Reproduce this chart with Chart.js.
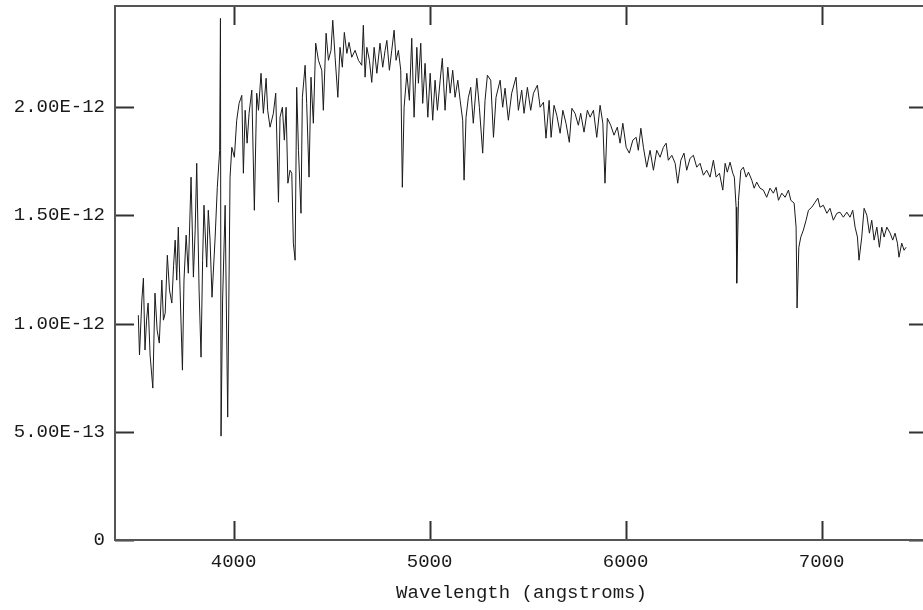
<!DOCTYPE html>
<html>
<head>
<meta charset="utf-8">
<script src="https://cdn.jsdelivr.net/npm/chart.js@4.4.1/dist/chart.umd.min.js"></script>
<style>
  html, body { margin: 0; padding: 0; background: #fff; overflow: hidden; }
  #wrap { width: 940px; height: 610px; position: relative; }
</style>
</head>
<body>
<div id="wrap"><canvas id="spec"></canvas></div>
<script>
// Spectrum: wavelength (angstroms) and flux (units of 1E-12)
const wavelength = [
  3514,3520,3532,3540,3548,3556,3564,3574,3588,3599,3610,3621,3634,3642,3651,3662,3673,3685,3694,3702,
  3710,3718,3727,3739,3747,3758,3769,3783,3795,3804,3812,3824,3834,3842,3849,3863,3871,3880,3890,3906,
  3917,3929,3933,3936,3944,3957,3970,3982,3991,4004,4016,
  4028,4042,4050,4059,4069,4079,4093,4106,4118,4127,4140,4152,4166,4174,4186,4203,4215,4229,4237,4249,
  4259,4268,4277,4288,4297,4305,4314,4322,4331,4344,4351,4365,4373,4385,4395,4407,4419,4433,4450,4458,
  4472,4484,4497,4506,4518,4532,4543,4555,4565,4578,4589,4603,4620,4637,
  4654,4662,4671,4680,4693,4705,4717,4731,4747,4761,4773,4782,4795,4807,4819,4829,4841,4853,4861,4870,
  4884,4897,4909,4921,4935,4943,4955,4965,4977,4991,5003,5016,5028,5040,5054,5065,5079,5093,5105,5118,
  5130,5144,5156,5169,5176,5186,5198,5210,5223,5241,5254,5271,5283,5295,5312,5326,5339,5360,5373,5385,
  5402,5419,5441,5453,5470,5482,5499,5516,5530,
  5550,5564,5581,5594,5610,5620,5635,5649,5666,5680,5696,5713,5726,5742,5759,5771,5788,5805,5819,5836,
  5853,5870,5884,5895,5907,5924,5941,5958,5972,5986,6003,6019,6037,6054,6065,6078,6091,6108,6125,6142,
  6159,6176,6193,6207,6218,6236,6253,6266,6282,6298,6312,6329,6346,6363,6380,6397,6414,6431,6448,6462,
  6479,
  6496,6508,6519,6533,6547,6555,6564,6567,6576,6588,6601,6615,6627,6644,6656,6669,6686,6703,6720,6737,
  6754,6768,6780,6797,6814,6831,6843,6860,6870,6875,6884,6894,6907,6921,6933,6950,6967,6981,6992,7009,
  7027,7043,7060,7078,7094,7111,7129,7145,7159,7171,7183,7191,7205,7217,7231,7244,7256,7268,7282,7295,
  7307,7319,7333,7350,7363,7375,7387,7395,7409,7421,7431
];
const flux = [
  1.039,0.855,1.109,1.210,0.878,1.016,1.095,0.855,0.702,1.141,0.970,0.910,1.201,1.016,1.048,1.316,1.155,1.095,1.270,1.386,
  1.201,1.446,1.155,0.785,1.201,1.409,1.233,1.677,1.215,1.432,1.741,1.155,0.845,1.293,1.547,1.261,1.524,1.386,1.122,1.400,
  1.630,1.801,2.411,0.480,1.109,1.547,0.568,1.677,1.815,1.769,1.940,
  2.018,2.055,1.695,1.986,1.834,1.972,2.079,1.524,2.065,1.986,2.157,1.972,2.134,1.986,1.908,1.972,2.065,1.561,1.954,2.000,
  1.848,2.000,1.649,1.709,1.695,1.372,1.293,2.092,1.801,1.510,2.046,2.194,2.018,1.677,2.139,1.926,2.296,2.217,2.171,1.986,
  2.342,2.217,2.263,2.402,2.231,2.046,2.277,2.185,2.346,2.249,2.300,2.231,2.263,2.217,
  2.194,2.379,2.139,2.277,2.217,2.115,2.277,2.157,2.296,2.185,2.263,2.309,2.171,2.263,2.356,2.217,2.263,2.171,1.630,2.000,
  2.157,2.032,2.319,1.954,2.277,2.111,2.296,2.018,2.203,1.954,2.157,1.940,2.125,1.986,2.125,2.226,1.986,2.185,2.065,2.171,
  2.046,2.125,2.032,1.940,1.663,1.954,2.046,2.092,1.926,2.134,2.000,1.788,2.032,2.148,2.125,1.861,2.046,2.125,2.000,2.088,
  1.940,2.065,2.139,1.986,2.079,1.972,2.092,1.986,2.065,
  2.102,2.000,2.023,1.857,2.032,1.861,2.009,1.963,1.880,1.986,1.926,1.838,1.995,1.972,1.917,1.972,1.885,1.986,1.954,1.986,
  1.861,2.009,1.926,1.649,1.949,1.917,1.871,1.908,1.834,1.926,1.815,1.788,1.848,1.861,1.801,1.903,1.815,1.723,1.801,1.709,
  1.801,1.769,1.815,1.834,1.755,1.778,1.741,1.649,1.755,1.788,1.709,1.764,1.778,1.723,1.741,1.686,1.709,1.677,1.755,1.677,
  1.695,
  1.617,1.741,1.700,1.746,1.695,1.677,1.538,1.187,1.570,1.709,1.723,1.677,1.700,1.663,1.626,1.654,1.626,1.617,1.584,1.626,
  1.603,1.630,1.570,1.603,1.584,1.617,1.570,1.557,1.446,1.072,1.353,1.400,1.432,1.478,1.524,1.538,1.561,1.580,1.538,1.547,
  1.510,1.533,1.478,1.510,1.515,1.492,1.515,1.492,1.524,1.446,1.400,1.293,1.400,1.533,1.501,1.418,1.478,1.386,1.446,1.353,
  1.446,1.400,1.446,1.418,1.386,1.418,1.372,1.307,1.372,1.339,1.353
];

// axis ranges and ticks
const xMin = 3395, xMax = 7543;
const xTicks = [4000, 5000, 6000, 7000];
const yMin = 0, yMax = 2.468;
const yTicks = [0, 0.5, 1.0, 1.5, 2.0];
const xTitle = 'Wavelength (angstroms)';

const FONT = { family: '"Liberation Mono", "DejaVu Sans Mono", monospace', size: 19 };
const INK = '#1a1a1a';

function fmtFlux(v){
  if (v === 0) return '0';
  return (v * 1e-12).toExponential(2).toUpperCase();
}

// frame + inward tick marks on all four sides
const frameTicks = {
  id: 'frameTicks',
  afterDraw(chart){
    const { ctx, chartArea: a, scales } = chart;
    const len = 19;
    ctx.save();
    ctx.strokeStyle = '#333';
    ctx.lineWidth = 2;
    ctx.beginPath();
    xTicks.forEach(v => {
      const px = Math.round(scales.x.getPixelForValue(v)) + 0.5;
      ctx.moveTo(px, a.bottom); ctx.lineTo(px, a.bottom - len);
      ctx.moveTo(px, a.top); ctx.lineTo(px, a.top + len);
    });
    yTicks.forEach(v => {
      const py = Math.round(scales.y.getPixelForValue(v)) + 0.5;
      ctx.moveTo(a.left, py); ctx.lineTo(a.left + len, py);
      ctx.moveTo(a.right, py); ctx.lineTo(a.right - len, py);
    });
    ctx.stroke();
    ctx.strokeStyle = '#555';
    ctx.lineWidth = 2;
    ctx.strokeRect(a.left, a.top, a.right - a.left, a.bottom - a.top);
    ctx.restore();
  }
};

const points = wavelength.map((w, i) => ({ x: w, y: flux[i] }));

new Chart(document.getElementById('spec'), {
  type: 'line',
  data: {
    datasets: [{
      data: points,
      borderColor: INK,
      borderWidth: 1,
      pointRadius: 0,
      tension: 0,
      fill: false
    }]
  },
  options: {
    animation: false,
    responsive: true,
    maintainAspectRatio: false,
    layout: { padding: { left: 0, right: 12, top: 6, bottom: 0 } },
    plugins: { legend: { display: false }, tooltip: { enabled: false } },
    scales: {
      x: {
        type: 'linear',
        min: xMin, max: xMax,
        grid: { display: false, drawTicks: false },
        border: { display: false },
        afterBuildTicks: s => { s.ticks = xTicks.map(v => ({ value: v })); },
        afterFit: s => { s.height = 70; s.paddingLeft = 0; s.paddingRight = 0; },
        ticks: { color: INK, font: FONT, padding: 11, maxRotation: 0, callback: v => String(v) },
        title: { display: true, text: xTitle, color: INK, font: FONT, padding: { top: 4, bottom: 6 } }
      },
      y: {
        min: yMin, max: yMax,
        grid: { display: false, drawTicks: false },
        border: { display: false },
        afterBuildTicks: s => { s.ticks = yTicks.map(v => ({ value: v })); },
        afterFit: s => { s.width = 115; s.paddingTop = 0; s.paddingBottom = 0; },
        ticks: { color: INK, font: FONT, padding: 10, callback: v => fmtFlux(v) }
      }
    }
  },
  plugins: [frameTicks]
});
</script>
</body>
</html>
